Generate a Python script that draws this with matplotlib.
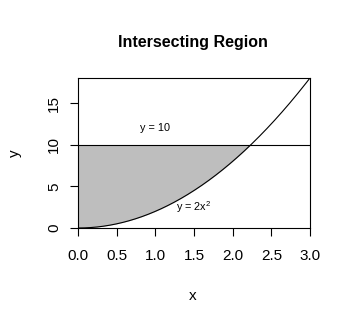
import numpy as np
import matplotlib
matplotlib.use("Agg")
import matplotlib.pyplot as plt

# curve y = 2x^2 on [0, 3], horizontal line y = 10
coef = 2.0
x_range = [0.0, 3.0]
level = 10.0
xticks = [0.0, 0.5, 1.0, 1.5, 2.0, 2.5, 3.0]
yticks = [0, 5, 10, 15]

plt.rcParams.update({"font.family": ["Liberation Sans", "DejaVu Sans"],
                     "mathtext.default": "regular"})

xs = np.linspace(x_range[0], x_range[1], 400)
ys = coef * xs ** 2
x_cross = np.sqrt(level / coef)

fig = plt.figure(figsize=(3.5, 3.26), dpi=100)
ax = fig.add_axes([78/350, 1-228/326, 232/350, 150/326])
ax.fill_between(xs, ys, level, where=xs <= x_cross + 1e-9, color="#bebebe", lw=0, interpolate=True)
ax.plot(xs, ys, color="black", lw=0.8)
ax.axhline(level, color="black", lw=0.8)
ax.text(1.0, 12, "y = 10", ha="center", va="center", fontsize=7.8)
ax.text(1.5, 2.5, r"y = 2x$^2$", ha="center", va="center", fontsize=7.8)

ax.set_xlim(0, 3); ax.set_ylim(0, 18)
ax.set_xticks(xticks); ax.set_xticklabels([f"{v:.1f}" for v in xticks])
ax.set_yticks(yticks); ax.set_yticklabels([str(v) for v in yticks], rotation=90, va="center")
ax.tick_params(axis="both", direction="out", length=6, width=0.8, labelsize=11, color="black")
ax.tick_params(axis="x", pad=9)
ax.tick_params(axis="y", pad=6)
for s in ax.spines.values():
    s.set_linewidth(0.8)

fig.text(193/350, 1-296/326, "x", ha="center", va="center", fontsize=11)
fig.text(15/350, 1-153/326, "y", ha="center", va="center", fontsize=11, rotation=90)
fig.text(193/350, 1-42/326, "Intersecting Region", ha="center", va="center", fontsize=11.5, fontweight="bold")

fig.savefig("out.png", dpi=100)
